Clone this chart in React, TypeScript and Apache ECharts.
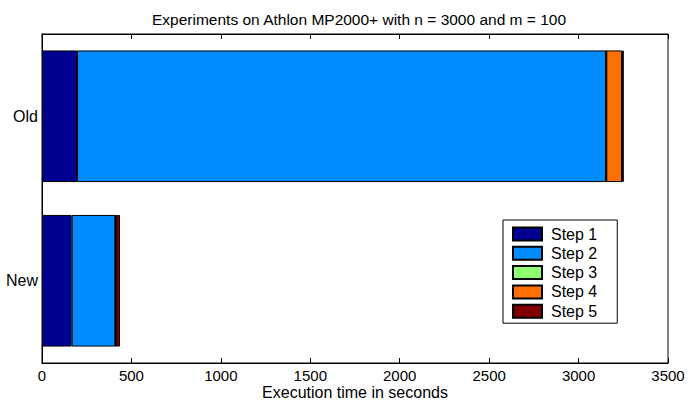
import React, { useEffect, useRef } from "react";
import * as echarts from "echarts";

const categories = ["New", "Old"];
const stepNames = ["Step 1", "Step 2", "Step 3", "Step 4", "Step 5"];
const step1 = [166, 196];
const step2 = [244, 2958];
const step3 = [1, 1];
const step4 = [3, 88];
const step5 = [22, 10];
const stepColors = ["#000090", "#008cff", "#90ff70", "#ff7000", "#800000"];
const xTicks = { min: 0, max: 3500, interval: 500 };

export default function App() {
  const ref = useRef<HTMLDivElement>(null);
  useEffect(() => {
    if (!ref.current) return;
    const chart = echarts.init(ref.current, null, { renderer: "svg" });
    const values = [step1, step2, step3, step4, step5];
    const font = "Liberation Sans, Arial, Helvetica, sans-serif";
    chart.setOption({
      animation: false,
      textStyle: { fontFamily: font },
      title: {
        text: "Experiments on Athlon MP2000+ with n = 3000 and m = 100",
        left: 354,
        textAlign: "center",
        top: 6,
        textStyle: { fontSize: 15.5, fontWeight: "normal", color: "#000", fontFamily: font },
      },
      grid: {
        left: 42,
        right: 20,
        top: 34,
        bottom: 37,
        outerBoundsMode: "none",
        containLabel: false,
        show: true,
        borderColor: "#000",
        borderWidth: 1,
        backgroundColor: "#fff",
      },
      legend: {
        orient: "vertical",
        left: 503,
        top: 220,
        data: stepNames,
        icon: "rect",
        itemWidth: 29,
        itemHeight: 13,
        itemGap: 3.3,
        padding: [6, 20, 4, 9],
        backgroundColor: "#fff",
        borderColor: "#000",
        borderWidth: 1,
        borderRadius: 0,
        textStyle: { fontSize: 16, lineHeight: 15, color: "#000", fontFamily: font, padding: [0, 0, 0, 4] },
      },
      xAxis: [
        {
          type: "value",
          min: xTicks.min,
          max: xTicks.max,
          interval: xTicks.interval,
          name: "Execution time in seconds",
          nameLocation: "middle",
          nameGap: 21,
          nameMoveOverlap: false,
          nameTextStyle: { fontSize: 16, color: "#000" },
          axisLine: { show: true, lineStyle: { color: "#000" } },
          axisTick: { show: true, inside: true, length: 5, lineStyle: { color: "#000" } },
          axisLabel: { fontSize: 15, color: "#000", margin: 5, formatter: (v: number) => String(v) },
          splitLine: { show: false },
        },
        {
          type: "value",
          position: "top",
          min: xTicks.min,
          max: xTicks.max,
          interval: xTicks.interval,
          axisLine: { show: true, lineStyle: { color: "#000" } },
          axisTick: { show: true, inside: true, length: 5, lineStyle: { color: "#000" } },
          axisLabel: { show: false },
          splitLine: { show: false },
        },
      ],
      yAxis: [
        {
          type: "category",
          data: categories,
          axisLine: { show: true, lineStyle: { color: "#000" } },
          axisTick: { show: false },
          axisLabel: { fontSize: 16, color: "#000", margin: 4 },
        },
      ],
      series: stepNames.map((name, i) => ({
        name,
        type: "bar",
        stack: "total",
        barWidth: "80%",
        data: values[i],
        itemStyle: { color: stepColors[i], borderColor: "#000", borderWidth: 1 },
      })),
    });
    return () => chart.dispose();
  }, []);
  return <div ref={ref} style={{ width: 688, height: 400, position: "absolute", left: 0, top: 0 }} />;
}
